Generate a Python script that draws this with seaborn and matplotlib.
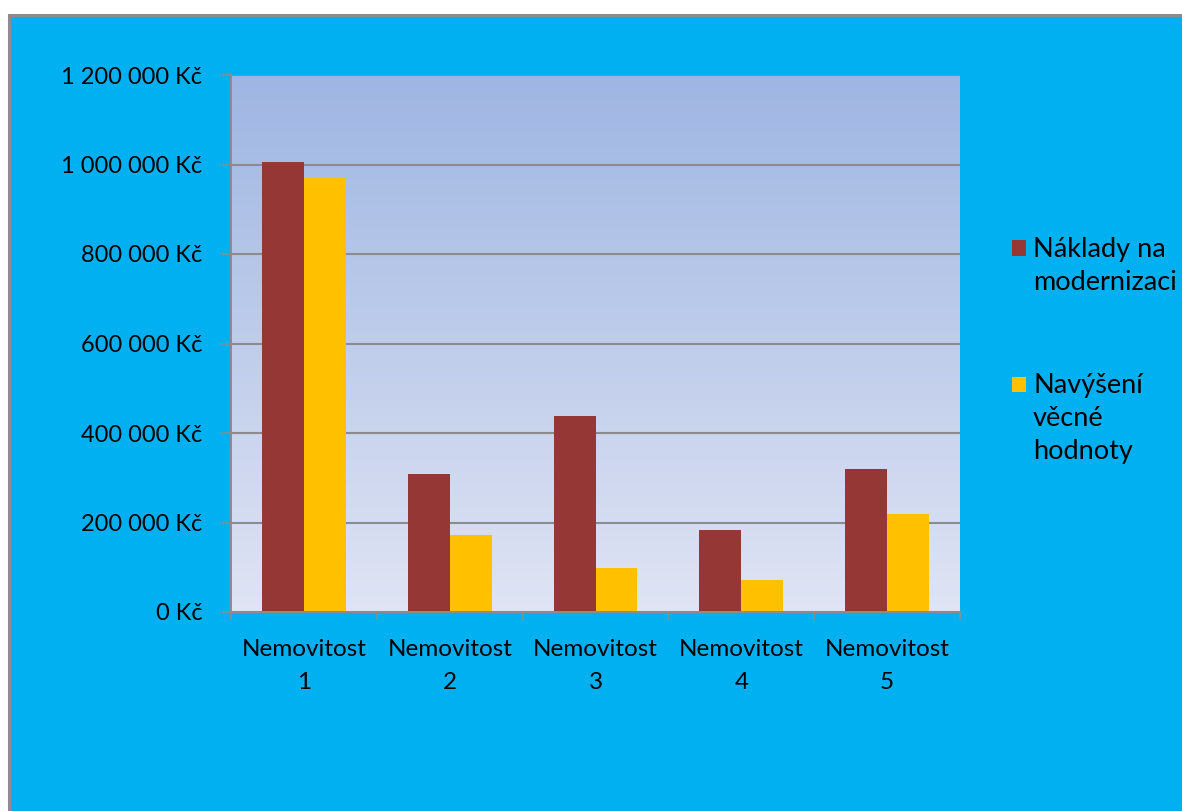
import numpy as np
import pandas as pd
import matplotlib
matplotlib.use("Agg")
import matplotlib.pyplot as plt
from matplotlib.patches import Rectangle
from matplotlib.ticker import FuncFormatter, FixedLocator
import seaborn as sns

# Data
kategorie = ["Nemovitost\n1", "Nemovitost\n2", "Nemovitost\n3", "Nemovitost\n4", "Nemovitost\n5"]
naklady = [1005000, 308000, 438000, 184000, 320000]
navyseni = [970000, 172000, 99000, 72000, 218000]
serie = ["Náklady na\nmodernizaci", "Navýšení\nvěcné\nhodnoty"]
barvy = ["#953735", "#FFC000"]
y_ticks = [0, 200000, 400000, 600000, 800000, 1000000, 1200000]

df = pd.DataFrame({
    "kategorie": kategorie * 2,
    "hodnota": naklady + navyseni,
    "serie": [serie[0]] * len(kategorie) + [serie[1]] * len(kategorie),
})

plt.rcParams["font.family"] = ["Lato", "DejaVu Sans"]
FS_Y = 17
FS_X = 17.5
FS_LEG = 19.5

W, H = 1182, 811
fig = plt.figure(figsize=(W / 100, H / 100), dpi=100, facecolor="white")

# Chart frame: blue area with a grey border on the left and top
frame = Rectangle((9 / W, -0.05), 1.1, 1 - 15 / H + 0.05, transform=fig.transFigure,
                  facecolor="#00B0F0", edgecolor="#8C8C8C", linewidth=2.2, zorder=-5)
fig.patches.append(frame)

ax = fig.add_axes([231 / W, 1 - 612 / H, (960 - 231) / W, (612 - 75) / H])
ax.set_facecolor("none")

# Vertical gradient for the plot area
grad = np.linspace(0, 1, 256).reshape(-1, 1)
top = np.array([0x9E, 0xB6, 0xE2]) / 255
bot = np.array([0xE0, 0xE4, 0xF4]) / 255
img = top[None, None, :] * (1 - grad[:, :, None]) + bot[None, None, :] * grad[:, :, None]
ax.imshow(img, extent=[0, 1, 0, 1], transform=ax.transAxes, aspect="auto", zorder=0)

sns.barplot(data=df, x="kategorie", y="hodnota", hue="serie", hue_order=serie,
            palette=barvy, saturation=1, width=0.576, ax=ax, zorder=3,
            edgecolor="none", linewidth=0)

ax.set_xlim(-0.5, len(kategorie) - 0.5)
ax.set_ylim(0, 1200000)
ax.yaxis.set_major_locator(FixedLocator(y_ticks))
ax.yaxis.set_major_formatter(FuncFormatter(lambda v, p: f"{int(v):,}".replace(",", " ") + " Kč"))
ax.grid(axis="y", color="#8C8C8C", linewidth=1.5, zorder=1)
ax.set_axisbelow(True)
ax.set_xlabel("")
ax.set_ylabel("")

for s in ["top", "right"]:
    ax.spines[s].set_visible(False)
for s in ["left", "bottom"]:
    ax.spines[s].set_color("#8C8C8C")
    ax.spines[s].set_linewidth(1.4)
    ax.spines[s].set_zorder(4)

ax.tick_params(axis="y", length=7.2, width=1.1, color="#8C8C8C", pad=13.5,
               labelsize=FS_Y, labelcolor="black")
ax.tick_params(axis="x", which="major", length=0, pad=19.5, labelsize=FS_X, labelcolor="black")
ax.set_xticks(np.arange(-0.5, len(kategorie)), minor=True)
ax.tick_params(axis="x", which="minor", length=6, width=1.1, color="#8C8C8C")
for t in ax.get_xticklabels():
    t.set_linespacing(1.72)
    t.set_ha("center")

handles, labels = ax.get_legend_handles_labels()
leg = ax.legend(handles, labels, loc="upper left", bbox_to_anchor=(1012 / W, 1 - 237 / H),
                bbox_transform=fig.transFigure, frameon=False, fontsize=FS_LEG,
                handlelength=0.52, handleheight=0.52, handletextpad=0.26,
                labelspacing=2.9, borderaxespad=0, borderpad=0)
for t in leg.get_texts():
    t.set_linespacing(1.39)
# Put each legend swatch next to the first line of its label
for column in leg._legend_handle_box.get_children():
    for item in column.get_children():
        item.align = "top"
for p in leg.legend_handles:
    p.set_y(p.get_y() - 2.3)

fig.savefig("out.png", dpi=100, facecolor="white")
